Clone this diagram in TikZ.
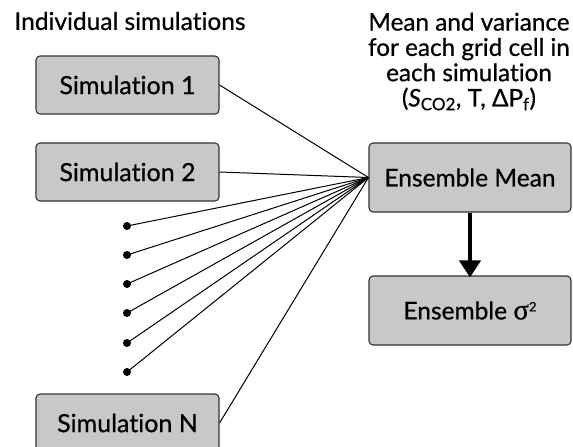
\documentclass[tikz,border=0pt]{standalone}
\usepackage{fontspec}
\setmainfont{Lato}[Ligatures=NoCommon, FakeBold=0.6]
\newfontfamily\symfont{Liberation Serif}[FakeBold=0.6]
\usetikzlibrary{arrows.meta}
\definecolor{boxfill}{RGB}{200,200,200}
\definecolor{boxline}{RGB}{50,50,50}
\begin{document}
\begin{tikzpicture}[x=1pt,y=-1pt,
  box/.style={draw=boxline, fill=boxfill, rounded corners=4pt, line width=1.1pt,
    minimum width=183pt, minimum height=58pt, inner sep=0pt,
    font=\fontsize{25}{28}\selectfont},
  ebox/.style={box, minimum width=202pt, minimum height=69pt,
    font=\fontsize{24.5}{28}\selectfont},
  wire/.style={line width=1pt},
  dotnode/.style={circle, fill=black, inner sep=0pt, minimum size=8pt},
  thickarrow/.style={line width=4pt, -{Triangle[length=17pt,width=21pt]}},
  header/.style={align=center, inner sep=0pt, font=\fontsize{24.3}{25.3}\selectfont}]
\useasboundingbox (0,0) rectangle (573,447);
\clip (0,0) rectangle (573,447);
\fill[white] (0,0) rectangle (573,447);
\node[header, font=\fontsize{24.5}{25}\selectfont] (t1) at (130,21) {Individual simulations};
\node[header] (t2) at (469,61.5) {Mean and variance\\for each grid cell in\\each simulation\\({\itshape S}\textsubscript{CO2}, T, ΔP\textsubscript{f})};
\node[box] (s1) at (127.5,85) {Simulation 1};
\node[box] (s2) at (127.5,172) {Simulation 2};
\node[box] (sn) at (127.5,423) {Simulation N};
\node[ebox] (em) at (470,177.5) {Ensemble Mean};
\node[ebox] (sig) at (470,310.5) {Ensemble {\symfont\fontsize{29}{29}\selectfont σ}\raisebox{8pt}{\fontsize{13}{13}\selectfont 2}};
\node[dotnode] (d1) at (127,226) {};
\node[dotnode] (d2) at (127,255) {};
\node[dotnode] (d3) at (127,284) {};
\node[dotnode] (d4) at (127,313) {};
\node[dotnode] (d5) at (127,343) {};
\node[dotnode] (d6) at (127,372) {};
\draw[wire] (s1.east) -- (em.west);
\draw[wire] (s2.east) -- (em.west);
\foreach \d in {d1,d2,d3,d4,d5,d6} \draw[wire] (\d.center) -- (em.west);
\draw[wire] (sn.east) -- (em.west);
\draw[thickarrow] (em.south) -- ([yshift=-2pt]sig.north);
\end{tikzpicture}
\end{document}
